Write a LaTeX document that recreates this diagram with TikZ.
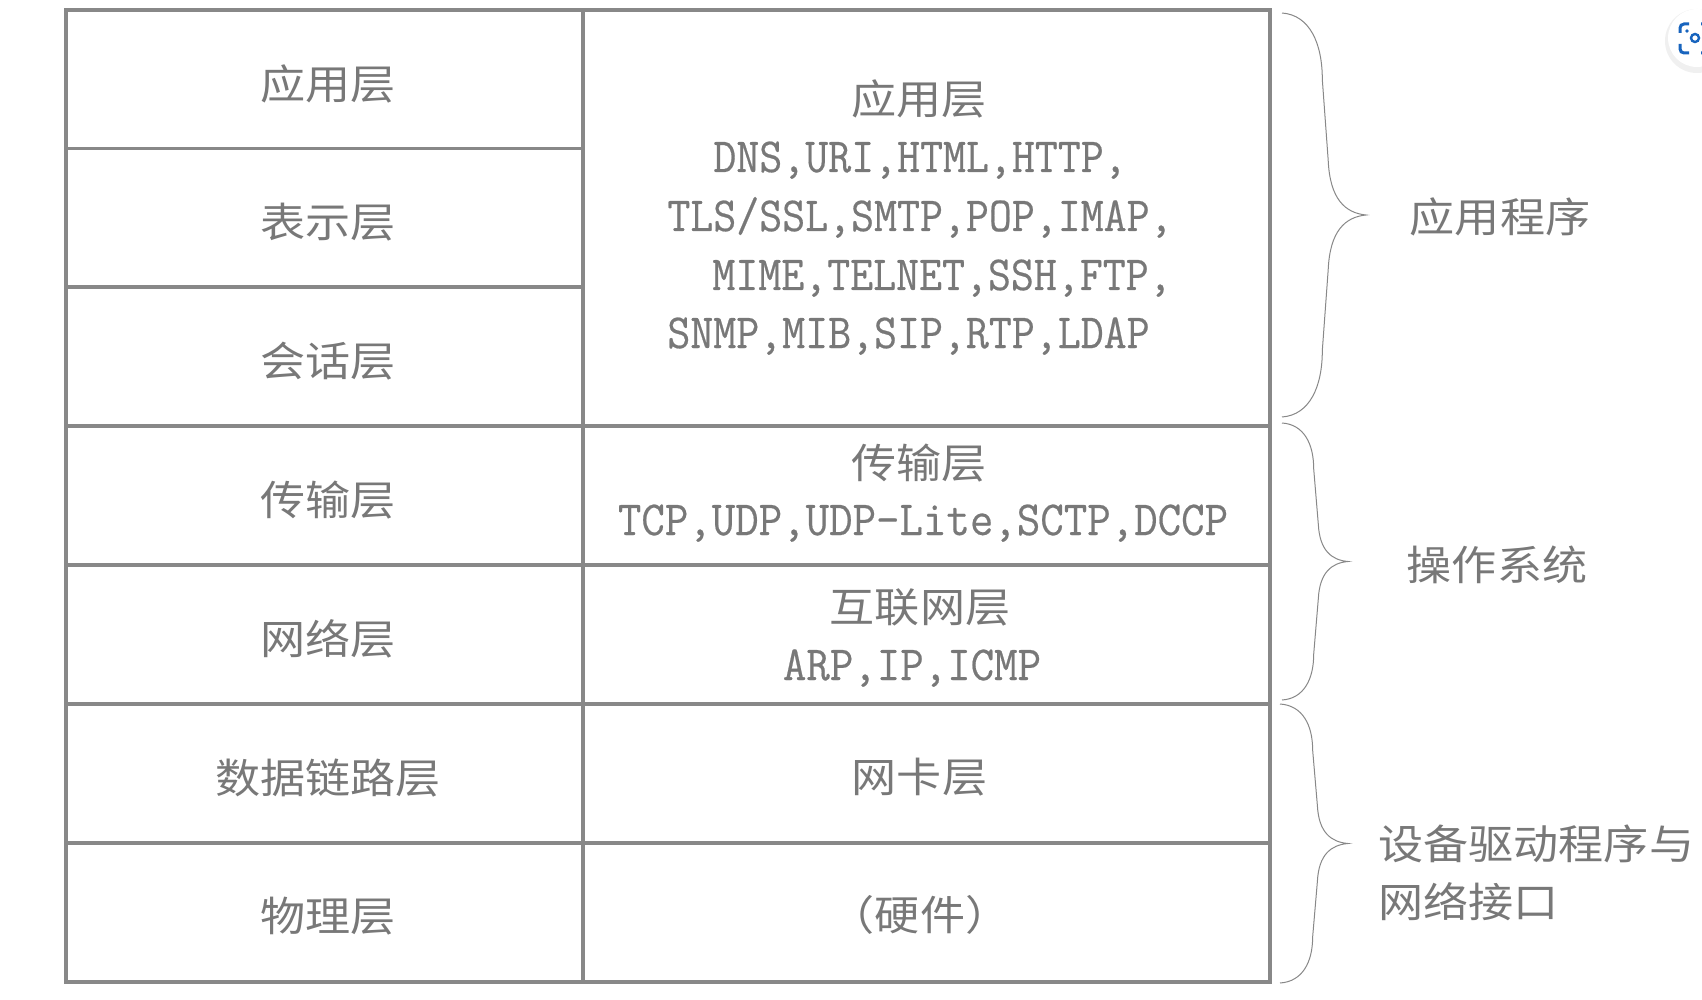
\documentclass[tikz,border=0pt]{standalone}
\usepackage{fontspec}
\usepackage{xcolor}
\usepackage{tikz}
\usetikzlibrary{positioning,calc}

\newfontfamily\cjk[FakeStretch=1.1]{Noto Sans CJK SC}
\newfontfamily\monolat[FakeStretch=0.93,FakeBold=0.4]{Latin Modern Mono}
\newfontfamily\monolatn[FakeStretch=0.91,FakeBold=0.4]{Latin Modern Mono}

\definecolor{textgray}{RGB}{120,120,120}
\definecolor{linegray}{RGB}{136,136,136}
\definecolor{iconblue}{RGB}{24,100,190}

\tikzset{
  layer/.style={font=\cjk\fontsize{20.5pt}{24pt}\selectfont,text=textgray,inner sep=0pt},
  proto/.style={font=\monolat\fontsize{24.5pt}{28pt}\selectfont,text=textgray,inner sep=0pt},
  appline/.style={proto,font=\monolatn\fontsize{24.5pt}{28pt}\selectfont},
  gridline/.style={draw=linegray,line width=1.6pt},
  curly/.style={draw=linegray,line width=0.5pt}
}

% right curly brace: x, top, bottom, amplitude
\newcommand\sidebrace[4]{%
  \begin{scope}[shift={(#1,{(#2+#3)/2})},yscale={(#3-#2)/200},xscale={#4/100}]
    \draw[curly] (0,-100) .. controls (33,-99) and (48,-85) .. (48,-67) -- (55,-27)
      .. controls (57,-8) and (75,-1) .. (100,0)
      .. controls (75,1) and (57,8) .. (55,27) -- (48,67)
      .. controls (48,85) and (33,99) .. (0,100);
  \end{scope}}

\begin{document}
\begin{tikzpicture}[x=0.5pt,y=-0.5pt]
  \useasboundingbox (0,0) rectangle (1702,1000);
  \clip (0,0) rectangle (1702,1000);
  \fill[white] (0,0) rectangle (1702,1000);

  % table
  \draw[gridline] (66,10) rectangle (1270,982);
  \draw[gridline] (583,10) -- (583,982);
  \foreach \y in {148.5,287} \draw[gridline] (66,\y) -- (583,\y);
  \foreach \y in {426,565,704,843} \draw[gridline] (66,\y) -- (1270,\y);

  % OSI layers
  \foreach \lbl [count=\i] in {应用层,表示层,会话层,传输层,网络层,数据链路层,物理层}
    \node[layer] (osi\i) at (328,{83.5+138.83*(\i-1)}) {\lbl};

  % TCP/IP layers
  \node[layer] (tcpapp) at (919,99) {应用层};
  \foreach \txt/\xx/\yy [count=\i] in {{DNS,URI,HTML,HTTP,}/713/172,
      {TLS/SSL,SMTP,POP,IMAP,}/667/231,{MIME,TELNET,SSH,FTP,}/712/290,
      {SNMP,MIB,SIP,RTP,LDAP}/667/348}
    \node[appline,anchor=base west] (appproto\i) at (\xx,\yy) {\txt};
  \node[layer] (tcptrans) at (919,463) {传输层};
  \node[proto,anchor=base] (transproto) at (923,535) {TCP,UDP,UDP-Lite,SCTP,DCCP};
  \node[layer] (tcpnet) at (920,607) {互联网层};
  \node[proto,anchor=base] (netproto) at (912,680) {ARP,IP,ICMP};
  \node[layer] (tcplink) at (919.5,777) {网卡层};
  \node[layer] (tcphw) at (920,915) {（硬件）};

  % braces and their labels
  \sidebrace{1282}{13}{417}{84}
  \sidebrace{1282}{423}{700}{66}
  \sidebrace{1280}{704}{983}{68}
  \node[layer] (program) at (1500,217) {应用程序};
  \node[layer] (system) at (1497,565) {操作系统};
  \node[layer,anchor=west] (driver) at (1378,843.5) {设备驱动程序与};
  \node[layer,anchor=west] (netif) at (1378,901.5) {网络接口};

  % screenshot button
  \fill[black!6] (1697,41) circle (32);
  \fill[white] (1697,38) circle (29);
  \begin{scope}[iconblue,line width=1.5pt,rounded corners=2pt]
    \draw (1680,33) -- (1680,24) -- (1689,24);
    \draw (1680,44) -- (1680,53) -- (1689,53);
    \draw (1701,24) -- (1710,24) -- (1710,33);
    \draw (1701,53) -- (1710,53) -- (1710,44);
  \end{scope}
  \fill[iconblue] (1687,31) circle (1.8);
  \draw[iconblue,line width=1.2pt] (1695,38) circle (4);
\end{tikzpicture}
\end{document}
